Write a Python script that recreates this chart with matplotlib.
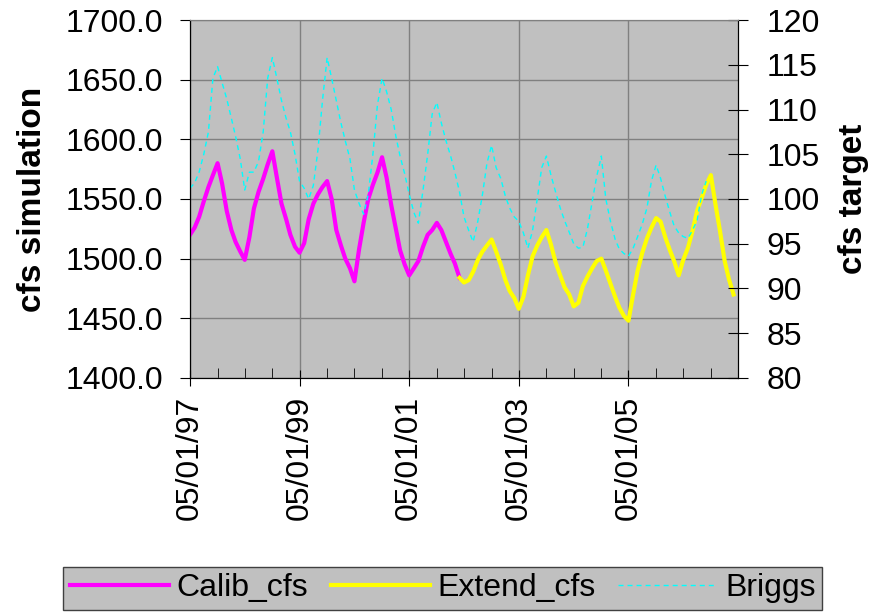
import pandas as pd
import matplotlib
matplotlib.use("Agg")
import matplotlib.pyplot as plt
import matplotlib.dates as mdates
from matplotlib.ticker import MultipleLocator, FormatStrFormatter

plt.rcParams['font.family'] = ['Liberation Sans', 'DejaVu Sans']

# monthly values, first month is May 1997
calib_cfs = [
    1520, 1526, 1535, 1548, 1560, 1570, 1580, 1563, 1540, 1524, 1514, 1506,
    1499, 1518, 1542, 1556, 1567, 1579, 1590, 1568, 1546, 1533, 1520, 1510,
    1505, 1513, 1533, 1546, 1554, 1560, 1565, 1550, 1524, 1511, 1500, 1492,
    1481, 1508, 1530, 1550, 1562, 1572, 1585, 1568, 1545, 1525, 1507, 1495,
    1486, 1492, 1498, 1510, 1520, 1524, 1530, 1524, 1514, 1504, 1496, 1484,
]
# starts on the last calibration month (Apr 2002)
extend_cfs = [
    1484, 1480, 1482, 1489, 1499, 1506, 1511, 1516, 1506, 1495, 1482, 1473,
    1467, 1458, 1468, 1486, 1502, 1511, 1518, 1524, 1512, 1497, 1486, 1476,
    1470, 1460, 1463, 1477, 1485, 1492, 1498, 1500, 1490, 1479, 1468, 1459,
    1452, 1448, 1470, 1490, 1505, 1517, 1526, 1534, 1531, 1518, 1507, 1498,
    1486, 1499, 1509, 1523, 1540, 1551, 1562, 1570, 1546, 1523, 1498, 1483,
    1470,
]
briggs = [
    101.2, 101.8, 103.0, 105.0, 107.5, 113.5, 114.8, 113.0, 111.2, 109.0, 107.0, 104.5,
    101.0, 103.0, 103.0, 104.2, 107.5, 113.5, 115.8, 113.5, 111.0, 109.0, 107.5, 105.0,
    102.0, 101.2, 100.0, 101.5, 105.5, 111.0, 115.8, 113.5, 111.0, 108.5, 106.5, 104.5,
    101.0, 99.5, 98.3, 100.5, 105.0, 110.5, 113.5, 112.0, 110.0, 107.0, 104.8, 102.8,
    100.5, 98.5, 97.3, 101.0, 105.0, 109.5, 110.8, 108.5, 106.5, 104.8, 103.0, 100.8,
    98.0, 96.5, 95.2, 97.5, 100.5, 104.0, 106.0, 103.5, 102.3, 100.3, 99.0, 98.0,
    97.5, 96.2, 94.5, 96.5, 100.0, 103.5, 104.8, 102.7, 100.8, 99.0, 97.6, 96.3,
    95.0, 94.5, 94.6, 96.7, 99.7, 102.5, 104.8, 100.0, 97.5, 95.5, 94.4, 93.9,
    93.6, 94.5, 95.8, 97.2, 99.0, 102.0, 103.8, 102.3, 100.3, 98.5, 97.0, 96.2,
    95.8, 95.6, 96.5, 97.6, 100.5, 102.0,
]

calib_dates = pd.date_range('1997-05-01', periods=len(calib_cfs), freq='MS')
extend_dates = pd.date_range(calib_dates[-1], periods=len(extend_cfs), freq='MS')
briggs_dates = pd.date_range('1997-05-01', periods=len(briggs), freq='MS')
date_ticks = pd.date_range('1997-05-01', periods=5, freq='24MS')

grey = '#C0C0C0'

fig = plt.figure(figsize=(8.73, 6.16), dpi=100)
ax = fig.add_axes([0.2176, 0.3864, 0.6278, 0.5811])
ax.set_facecolor(grey)
ax2 = ax.twinx()

l1, = ax.plot(calib_dates, calib_cfs, color='#FF00FF', lw=3, solid_joinstyle='round')
l2, = ax.plot(extend_dates, extend_cfs, color='#FFFF00', lw=3, solid_joinstyle='round')
l3, = ax2.plot(briggs_dates, briggs, color='#00FFFF', lw=1, linestyle=(0, (3.6, 2.9)))

ax.set_ylim(1400, 1700)
ax.yaxis.set_major_locator(MultipleLocator(50))
ax.yaxis.set_major_formatter(FormatStrFormatter('%.1f'))
ax2.set_ylim(80, 120)
ax2.yaxis.set_major_locator(MultipleLocator(5))

ax.set_xlim(pd.Timestamp('1997-05-01'), pd.Timestamp('2007-05-01'))
ax.set_xticks(date_ticks)
ax.xaxis.set_minor_locator(mdates.MonthLocator(bymonth=[5, 11]))
ax.xaxis.set_major_formatter(mdates.DateFormatter('%m/%d/%y'))

ax.grid(True, which='major', color='#808080', lw=1)
ax.set_axisbelow(True)

ax.tick_params(axis='y', direction='out', length=7, labelsize=23, colors='black', pad=12)
ax.tick_params(axis='x', which='major', direction='inout', length=12, labelsize=23,
               labelrotation=90, pad=7)
ax.tick_params(axis='x', which='minor', direction='in', length=7)
ax2.tick_params(axis='y', direction='inout', length=15, labelsize=23, pad=13)

for sp in ['left', 'bottom', 'right']:
    ax2.spines[sp].set_color('black')
ax2.spines['top'].set_color('#808080')
ax.spines['top'].set_color('#808080')

ax.set_ylabel('cfs simulation', fontsize=24, fontweight='bold', labelpad=13)
ax2.set_ylabel('cfs target', fontsize=24, fontweight='bold', labelpad=13)

leg = fig.legend([l1, l2, l3], ['Calib_cfs', 'Extend_cfs', 'Briggs'],
                 loc='center', bbox_to_anchor=(0.507, 0.045), ncol=3,
                 fontsize=23, frameon=True, fancybox=False, facecolor=grey,
                 edgecolor='#404040', framealpha=1, handlelength=3.1,
                 handletextpad=0.25, columnspacing=0.7, borderpad=0.2)
leg.get_frame().set_linewidth(1)

fig.savefig('out.png', dpi=100)
